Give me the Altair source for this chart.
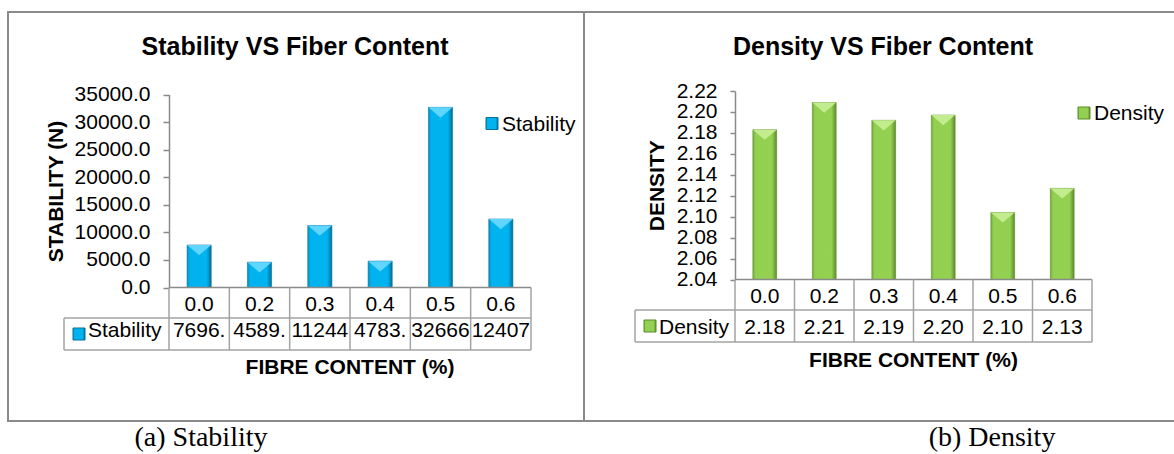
import altair as alt
import pandas as pd

# ---- data -------------------------------------------------------------
fibre = ["0.0", "0.2", "0.3", "0.4", "0.5", "0.6"]
stability = [7696.0, 4589.0, 11244.0, 4783.0, 32666.0, 12407.0]
density = [2.183, 2.209, 2.192, 2.197, 2.104, 2.127]
stability_ticks = [0, 5000, 10000, 15000, 20000, 25000, 30000, 35000]
density_ticks = [2.04, 2.06, 2.08, 2.10, 2.12, 2.14, 2.16, 2.18, 2.20, 2.22]

SANS = "Liberation Sans"
SERIF = "Liberation Serif"
GRID = "#a3a3a3"
FRAME = "#8a8a8a"

one = pd.DataFrame({"k": [0]})


def grad(stops):
    return alt.LinearGradient(
        gradient="linear", x1=0, x2=1, y1=0, y2=0,
        stops=[alt.GradientStop(color=c, offset=o) for o, c in stops],
    )


def txt(x, y, s, size=21, bold=False, font=SANS, align="center"):
    return alt.Chart(one).mark_text(
        font=font, fontSize=size, fontWeight="bold" if bold else "normal",
        align=align, baseline="alphabetic", color="black",
    ).encode(x=alt.value(x), y=alt.value(y), text=alt.value(s))


def hline(x, x2, y, color=GRID, w=1.5):
    return alt.Chart(one).mark_rule(color=color, strokeWidth=w).encode(
        x=alt.value(x), x2=alt.value(x2), y=alt.value(y))


def vline(x, y, y2, color=GRID, w=1.5):
    return alt.Chart(one).mark_rule(color=color, strokeWidth=w).encode(
        x=alt.value(x), y=alt.value(y), y2=alt.value(y2))


def icon(x, yc, fill, edge):
    return alt.Chart(one).mark_rect(color=fill, stroke=edge, strokeWidth=1).encode(
        x=alt.value(x), x2=alt.value(x + 12), y=alt.value(yc - 6), y2=alt.value(yc + 6))


def panel(c):
    df = pd.DataFrame({"fibre": fibre, "value": c["values"], "label": c["labels"]})
    x_bar = alt.Scale(domain=fibre, range=[c["x0"], c["x1"]], paddingInner=0.6, paddingOuter=0.3)
    x_cell = alt.Scale(domain=fibre, range=[c["x0"], c["x1"]], paddingInner=0, paddingOuter=0)
    y_sc = alt.Scale(domain=c["domain"], range=[c["y_base"], c["y_top"]], nice=False, zero=False)
    band = (c["x1"] - c["x0"]) / len(fibre) * 0.4

    axis = alt.Axis(
        orient="left", offset=-c["x0"], values=c["ticks"], format=c["fmt"],
        grid=False, labelFont=SANS, labelFontSize=21, labelColor="black",
        labelPadding=13, labelFlush=False, labelOverlap=False, labelBound=False,
        tickSize=c["tick"], tickColor=FRAME, tickWidth=1.5,
        domainColor=FRAME, domainWidth=1.5,
        title=c["ytitle"], titleFont=SANS, titleFontSize=21, titleFontWeight="bold",
        titleColor="black", titlePadding=c["tpad"],
    )

    bars = alt.Chart(df).mark_bar(color=c["grad"], stroke=c["edge"], strokeWidth=0.6).encode(
        x=alt.X("fibre:N", scale=x_bar, axis=None, sort=fibre),
        y=alt.Y("value:Q", scale=y_sc, axis=axis),
        y2=alt.datum(c["domain"][0]),
    )
    caps = alt.Chart(df).mark_point(
        shape="M-1,0L1,0L0,0.85Z", filled=True, fill=c["cap"], strokeWidth=0,
        opacity=1, size=band * band,
    ).encode(
        x=alt.X("fibre:N", scale=x_bar, axis=None, sort=fibre),
        y=alt.Y("value:Q", scale=y_sc, axis=None),
    )

    row1 = alt.Chart(df).mark_text(font=SANS, fontSize=21, baseline="alphabetic", color="black").encode(
        x=alt.X("fibre:N", scale=x_cell, axis=None, sort=fibre),
        y=alt.value(c["r1_base"]), text="fibre:N")
    row2 = alt.Chart(df).mark_text(font=SANS, fontSize=21, baseline="alphabetic", color="black").encode(
        x=alt.X("fibre:N", scale=x_cell, axis=None, sort=fibre),
        y=alt.value(c["r2_base"]), text="label:N")

    edges = pd.DataFrame({"edge": list(range(len(fibre) + 1))})
    cols = alt.Chart(edges).mark_rule(color=GRID, strokeWidth=1.5).encode(
        x=alt.X("edge:Q", scale=alt.Scale(domain=[0, len(fibre)], range=[c["x0"], c["x1"]]), axis=None),
        y=alt.value(c["y_base"]), y2=alt.value(c["r_bot"]))

    layers = [
        bars, caps,
        hline(c["x0"], c["x1"], c["y_base"], FRAME),
        hline(c["hx"], c["x1"], c["r_mid"]),
        hline(c["hx"], c["x1"], c["r_bot"]),
        vline(c["hx"], c["r_mid"], c["r_bot"]),
        cols, row1, row2,
        icon(c["hx"] + 9, (c["r_mid"] + c["r_bot"]) / 2, c["grad"], c["edge"]),
        txt(c["hx"] + 24, c["r2_base"], c["name"], align="left"),
        icon(c["lx"], c["ly"], c["grad"], c["edge"]),
        txt(c["lx"] + 16, c["ly"] + 7, c["name"], align="left"),
        txt(c["tx"], 55, c["title"], size=25, bold=True),
        txt((c["x0"] + c["x1"]) / 2, c["xt_base"], "FIBRE CONTENT (%)", bold=True),
        txt(c["cx"], 446, c["caption"], size=28, font=SERIF),
    ]
    return layers


blue = grad([(0, "#0a8fc4"), (0.12, "#00b2ee"), (0.8, "#00b4f0"), (1, "#006f9c")])
green = grad([(0, "#79ad3c"), (0.12, "#92d050"), (0.8, "#94d152"), (1, "#5f8c2c")])

left = dict(
    values=stability, labels=[f"{v:.1f}"[:5] for v in stability],
    domain=[0, 35000], ticks=stability_ticks, fmt=".1f", tick=6, tpad=8,
    x0=169, x1=531, y_base=287.5, y_top=94.5,
    r_mid=318, r_bot=350, r1_base=311, r2_base=337, hx=64,
    xt_base=374, ytitle="STABILITY (N)", name="Stability",
    lx=486, ly=123.5, tx=295, title="Stability VS Fiber Content",
    cx=201, caption="(a) Stability",
    grad=blue, edge="#0a6f99", cap="#5fd5ff",
)
right = dict(
    values=density, labels=[f"{v:.2f}" for v in density],
    domain=[2.04, 2.22], ticks=density_ticks, fmt=".2f", tick=5, tpad=9,
    x0=735, x1=1092, y_base=279.5, y_top=91,
    r_mid=310, r_bot=342, r1_base=303, r2_base=333.5, hx=635,
    xt_base=367, ytitle="DENSITY", name="Density",
    lx=1078, ly=113, tx=883, title="Density VS Fiber Content",
    cx=992, caption="(b) Density",
    grad=green, edge="#5b8a2a", cap="#c2ec8e",
)

frames = [
    alt.Chart(one).mark_rect(fillOpacity=0, stroke=FRAME, strokeWidth=2).encode(
        x=alt.value(8), x2=alt.value(584), y=alt.value(12), y2=alt.value(421)),
    hline(584, 1174, 12, FRAME, 2),
    hline(584, 1174, 421, FRAME, 2),
]

chart = alt.layer(*(frames + panel(left) + panel(right))).resolve_scale(
    x="independent", y="independent"
).properties(
    width=1174, height=454, padding=0,
    autosize=alt.AutoSizeParams(type="none"), background="white",
).configure_view(stroke=None)

chart.save("out.html", embed_options={"renderer": "svg", "actions": False})
